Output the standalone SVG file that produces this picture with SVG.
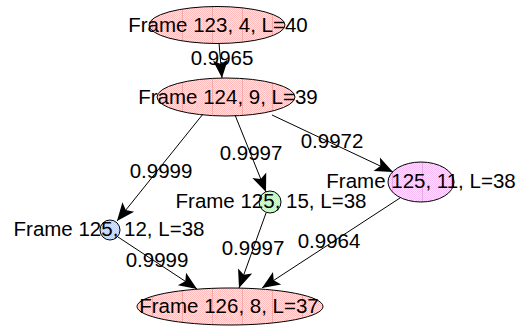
<svg xmlns="http://www.w3.org/2000/svg" width="529" height="328" viewBox="0 0 529 328">
<style>
text{font-family:"Liberation Sans",Arial,sans-serif;font-size:20.5px;fill:#000;text-anchor:middle}
.n{stroke:#000;stroke-width:1}
.e{stroke:#000;stroke-width:1;fill:none;marker-end:url(#ah)}
</style>
<defs>
<marker id="ah" markerUnits="userSpaceOnUse" markerWidth="22" markerHeight="18" viewBox="-20 -9 22 18" refX="0" refY="0" orient="auto">
<path d="M0,0 L-18,-7.5 L-14,0 L-18,7.5 Z" fill="#000"/>
</marker>
<pattern id="ckp" width="2" height="2" patternUnits="userSpaceOnUse"><rect width="2" height="2" fill="#ffe2e2"/><rect width="1" height="1" fill="#ffbcbc"/><rect x="1" y="1" width="1" height="1" fill="#ffbcbc"/></pattern>
<pattern id="pk" width="30" height="30" x="2" patternUnits="userSpaceOnUse"><rect width="30" height="30" fill="url(#ckp)"/><rect width="1" height="30" fill="#f6a8a8"/></pattern>
<pattern id="ckm" width="2" height="2" patternUnits="userSpaceOnUse"><rect width="2" height="2" fill="#fde2fd"/><rect width="1" height="1" fill="#f6bcf6"/><rect x="1" y="1" width="1" height="1" fill="#f6bcf6"/></pattern>
<pattern id="pm" width="30" height="30" x="2" patternUnits="userSpaceOnUse"><rect width="30" height="30" fill="url(#ckm)"/><rect width="1" height="30" fill="#e8a8e8"/></pattern>
<pattern id="pb" width="2" height="2" patternUnits="userSpaceOnUse"><rect width="2" height="2" fill="#dde7fb"/><rect width="1" height="1" fill="#bccef2"/><rect x="1" y="1" width="1" height="1" fill="#bccef2"/></pattern>
<pattern id="pg" width="2" height="2" patternUnits="userSpaceOnUse"><rect width="2" height="2" fill="#dff8df"/><rect width="1" height="1" fill="#bdeebd"/><rect x="1" y="1" width="1" height="1" fill="#bdeebd"/></pattern>
</defs>
<g id="f123"><ellipse class="n" cx="217" cy="25" rx="68" ry="18.5" fill="url(#pk)"/><text x="218" y="32">Frame 123, 4, L=40</text></g>
<g id="f124"><ellipse class="n" cx="226" cy="97" rx="69" ry="19" fill="url(#pk)"/><text x="228" y="104">Frame 124, 9, L=39</text></g>
<g id="f125_12"><circle class="n" cx="110" cy="230" r="10" fill="url(#pb)"/><text x="109" y="236">Frame 125, 12, L=38</text></g>
<g id="f125_15"><circle class="n" cx="270" cy="202" r="11" fill="url(#pg)"/><text x="271" y="208">Frame 125, 15, L=38</text></g>
<g id="f125_11"><ellipse class="n" cx="421" cy="182" rx="33" ry="20" fill="url(#pm)"/><text x="421" y="188">Frame 125, 11, L=38</text></g>
<g id="f126"><ellipse class="n" cx="230" cy="306.5" rx="93" ry="18.5" fill="url(#pk)"/><text x="229" y="313">Frame 126, 8, L=37</text></g>
<g id="edges">
<line class="e" x1="219" y1="43" x2="222" y2="78"/>
<line class="e" x1="203" y1="114" x2="117" y2="221"/>
<line class="e" x1="235" y1="115" x2="266" y2="192"/>
<line class="e" x1="272" y1="115" x2="393" y2="172"/>
<line class="e" x1="118" y1="237" x2="197" y2="289"/>
<line class="e" x1="266" y1="213" x2="239" y2="288"/>
<line class="e" x1="400" y1="198" x2="262" y2="288"/>
</g>
<g id="labels">
<text x="222" y="65">0.9965</text>
<text x="161" y="178">0.9999</text>
<text x="251" y="160">0.9997</text>
<text x="332" y="148">0.9972</text>
<text x="157" y="267">0.9999</text>
<text x="253" y="255">0.9997</text>
<text x="329" y="248">0.9964</text>
</g>
</svg>
